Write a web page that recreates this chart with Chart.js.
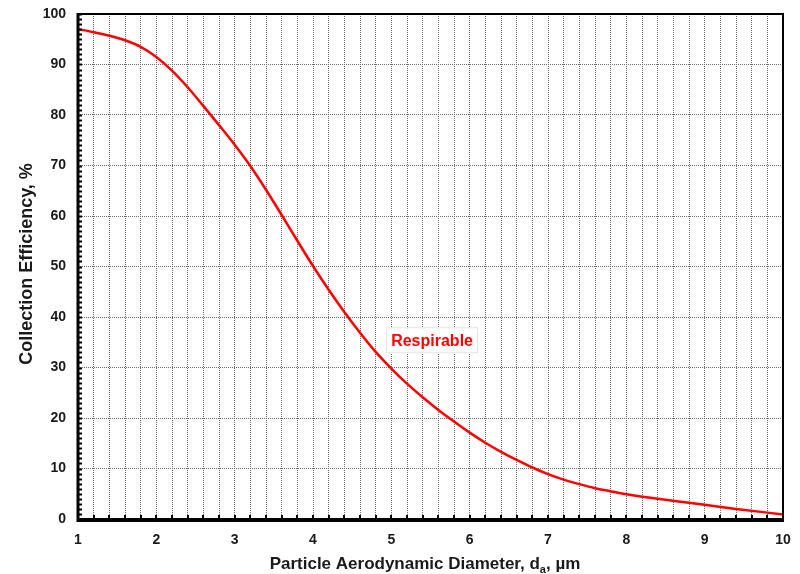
<!DOCTYPE html>
<html>
<head>
<meta charset="utf-8">
<script src="https://cdn.jsdelivr.net/npm/chart.js@4"></script>
<style>
html,body{margin:0;padding:0;background:#fff;}
#wrap{width:800px;height:574px;}
</style>
</head>
<body>
<div id="wrap"><canvas id="c" width="800" height="574"></canvas></div>
<script>
const diameters = [1,1.2,1.4,1.6,1.8,2,2.2,2.4,2.6,2.8,3,3.2,3.4,3.6,3.8,4,4.2,4.4,4.6,4.8,5,5.2,5.4,5.6,5.8,6,6.2,6.4,6.6,6.8,7,7.2,7.4,7.6,7.8,8,8.4,8.8,9,9.4,10];
const efficiency = [97.0,96.4,95.7,94.8,93.5,91.5,88.8,85.5,81.8,78.0,74.1,69.9,65.2,60.2,55.1,50.1,45.4,41.0,36.9,33.1,29.8,26.8,24.1,21.6,19.3,17.1,15.1,13.3,11.7,10.2,8.9,7.8,6.9,6.1,5.5,4.9,4.0,3.2,2.8,2.0,0.9];
const seriesLabel = "Respirable";
const labelPos = {x: 5.52, y: 35.4};
const xTitle = ["Particle Aerodynamic Diameter, d", "a", ", \u00b5m"];
const yTitle = "Collection Efficiency, %";
const xMin = 1, xMax = 10, xStep = 0.2;
const yMin = 0, yMax = 100, yStep = 10, yMinorStep = 1;

const FONT = "'Liberation Sans', Arial, sans-serif";

const decor = {
  id: 'decor',
  afterDatasetsDraw(chart) {
    const {ctx, chartArea: a, scales: {x, y}} = chart;
    ctx.save();
    // minor ticks
    ctx.strokeStyle = '#000';
    ctx.lineWidth = 2;
    ctx.beginPath();
    for (let v = xMin; v <= xMax + 1e-9; v += xStep) {
      const px = Math.round(x.getPixelForValue(v));
      ctx.moveTo(px, a.bottom);
      ctx.lineTo(px, a.bottom - 4);
    }
    for (let v = yMin; v <= yMax + 1e-9; v += yMinorStep) {
      const py = Math.round(y.getPixelForValue(v)) + 0.5;
      ctx.moveTo(a.left, py);
      ctx.lineTo(a.left + 4, py);
    }
    ctx.stroke();
    // frame
    ctx.lineWidth = 2;
    ctx.strokeRect(a.left, a.top, a.right - a.left, a.bottom - a.top);
    ctx.lineWidth = 3;
    ctx.beginPath();
    ctx.moveTo(a.left, a.top - 1);
    ctx.lineTo(a.left, a.bottom + 1.5);
    ctx.lineTo(a.right + 1, a.bottom + 1.5);
    ctx.stroke();

    // series label
    const lx = x.getPixelForValue(labelPos.x);
    const ly = y.getPixelForValue(labelPos.y);
    ctx.font = "bold 16px " + FONT;
    const w = ctx.measureText(seriesLabel).width;
    ctx.fillStyle = '#fff';
    ctx.strokeStyle = '#e4e4e4';
    ctx.lineWidth = 1;
    ctx.fillRect(lx - w / 2 - 4, ly - 12, w + 8, 25);
    ctx.strokeRect(lx - w / 2 - 4.5, ly - 12.5, w + 9, 25);
    ctx.fillStyle = '#ff0000';
    ctx.textAlign = 'center';
    ctx.textBaseline = 'middle';
    ctx.fillText(seriesLabel, lx, ly + 1);

    // y title
    ctx.fillStyle = '#1a1a1a';
    ctx.font = "bold 18px " + FONT;
    ctx.save();
    ctx.translate(27, 264);
    ctx.rotate(-Math.PI / 2);
    ctx.textAlign = 'center';
    ctx.textBaseline = 'middle';
    ctx.fillText(yTitle, 0, 0);
    ctx.restore();

    // x title with subscript
    const bigF = "bold 17px " + FONT, smallF = "bold 11px " + FONT;
    ctx.font = bigF;
    const w1 = ctx.measureText(xTitle[0]).width;
    const w3 = ctx.measureText(xTitle[2]).width;
    ctx.font = smallF;
    const w2 = ctx.measureText(xTitle[1]).width;
    const total = w1 + w2 + w3;
    let sx = 425 - total / 2;
    const base = 569;
    ctx.textAlign = 'left';
    ctx.textBaseline = 'alphabetic';
    ctx.font = bigF; ctx.fillText(xTitle[0], sx, base); sx += w1;
    ctx.font = smallF; ctx.fillText(xTitle[1], sx, base + 4); sx += w2;
    ctx.font = bigF; ctx.fillText(xTitle[2], sx, base);
    ctx.restore();
  }
};

new Chart(document.getElementById('c'), {
  type: 'line',
  data: {
    datasets: [{
      label: seriesLabel,
      data: diameters.map((d, i) => ({x: d, y: efficiency[i]})),
      borderColor: '#ff0000',
      borderWidth: 2.5,
      pointRadius: 0,
      fill: false,
      cubicInterpolationMode: 'monotone'
    }]
  },
  options: {
    responsive: false,
    animation: false,
    devicePixelRatio: 1,
    layout: {padding: {left: 0, top: 14, right: 17, bottom: 0}},
    plugins: {legend: {display: false}, tooltip: {enabled: false}, title: {display: false}},
    scales: {
      x: {
        type: 'linear', min: xMin, max: xMax,
        afterFit(s) { s.height = 55; s.paddingLeft = 0; s.paddingRight = 0; },
        afterBuildTicks(s) {
          const t = [];
          for (let i = 0; i <= Math.round((xMax - xMin) / xStep); i++) t.push({value: +(xMin + i * xStep).toFixed(4)});
          s.ticks = t;
        },
        ticks: {
          autoSkip: false, maxRotation: 0, padding: 13,
          color: '#1a1a1a',
          font: {family: FONT, size: 14, weight: 'bold'},
          callback: v => Math.abs(v - Math.round(v)) < 1e-6 ? String(Math.round(v)) : ''
        },
        grid: {color: '#6e6e6e', lineWidth: 1, drawTicks: false},
        border: {display: false, dash: [1, 1]}
      },
      y: {
        type: 'linear', min: yMin, max: yMax,
        afterFit(s) { s.width = 78; s.paddingTop = 0; s.paddingBottom = 0; },
        ticks: {
          stepSize: yStep, padding: 12,
          color: '#1a1a1a',
          font: {family: FONT, size: 14, weight: 'bold'}
        },
        grid: {color: '#6e6e6e', lineWidth: 1, drawTicks: false},
        border: {display: false, dash: [1, 1]}
      }
    }
  },
  plugins: [decor]
});
</script>
</body>
</html>
